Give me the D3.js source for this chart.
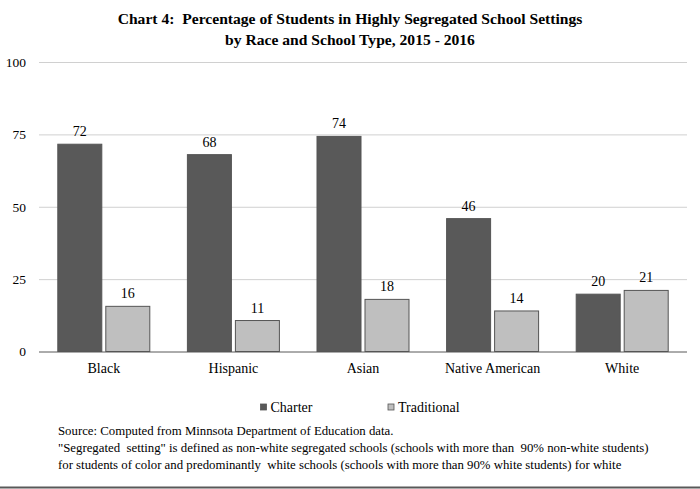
<!DOCTYPE html>
<html>
<head>
<meta charset="utf-8">
<script src="https://cdn.jsdelivr.net/npm/d3@7"></script>
<style>
  html, body { margin: 0; padding: 0; background: #fff; }
  svg { display: block; }
  text { font-family: "Liberation Serif", "Times New Roman", serif; fill: #000; white-space: pre; }
</style>
</head>
<body>
<svg id="chart" width="700" height="489"></svg>
<script>
const categories = ["Black", "Hispanic", "Asian", "Native American", "White"];
const seriesNames = ["Charter", "Traditional"];
const charterValues = [71.6, 68.0, 74.3, 45.9, 19.8];
const traditionalValues = [15.6, 10.7, 18.0, 14.0, 21.1];
const yTicks = [0, 25, 50, 75, 100];
const titleLines = [
  "Chart 4:  Percentage of Students in Highly Segregated School Settings",
  "by Race and School Type, 2015 - 2016"
];
const footnoteLines = [
  "Source: Computed from Minnsota Department of Education data.",
  "\"Segregated  setting\" is defined as non-white segregated schools (schools with more than  90% non-white students)",
  "for students of color and predominantly  white schools (schools with more than 90% white students) for white"
];

const colors = { Charter: "#595959", Traditional: "#bfbfbf" };
const data = categories.map((c, i) => ({ category: c, Charter: charterValues[i], Traditional: traditionalValues[i] }));

const svg = d3.select("#chart");
const W = 700, H = 489;
svg.append("rect").attr("width", W).attr("height", H).attr("fill", "#fff");

const x0 = d3.scaleBand().domain(categories).range([39, 687]).paddingInner(0).paddingOuter(0);
const bw = x0.bandwidth();
const x1 = d3.scaleBand().domain(seriesNames).range([18.8, bw - 18.8]).paddingInner(0.0833).paddingOuter(0);
const y = d3.scaleLinear().domain([0, 100]).range([351.5, 62]);

// Title
svg.append("g").selectAll("text").data(titleLines).join("text")
  .attr("x", 350).attr("y", (d, i) => 24 + i * 21)
  .attr("text-anchor", "middle")
  .style("font-size", "15.6px").style("font-weight", "bold")
  .text(d => d);

// Gridlines + y labels
const yAxis = d3.axisLeft(y).tickValues(yTicks).tickSize(-(687 - 39)).tickPadding(8);
const gy = svg.append("g").attr("transform", "translate(39,0)").call(yAxis);
gy.select(".domain").remove();
gy.selectAll(".tick line").attr("stroke", d => d === 0 ? "#595959" : "#d0d0d0").attr("stroke-width", 1);
gy.selectAll(".tick text").style("font-size", "13.5px").attr("fill", "#000")
  .style("font-family", "'Liberation Serif', serif").attr("x", -13);

// Bars
const groups = svg.append("g").selectAll("g").data(data).join("g")
  .attr("transform", d => `translate(${x0(d.category)},0)`);

groups.selectAll("rect").data(d => seriesNames.map(s => ({ key: s, value: d[s] }))).join("rect")
  .attr("x", d => x1(d.key))
  .attr("y", d => y(d.value))
  .attr("width", x1.bandwidth())
  .attr("height", d => y(0) - y(d.value))
  .attr("fill", d => colors[d.key])
  .attr("stroke", "#555")
  .attr("stroke-width", 1);

groups.selectAll("text.val").data(d => seriesNames.map(s => ({ key: s, value: d[s] }))).join("text")
  .attr("class", "val")
  .attr("x", d => x1(d.key) + x1.bandwidth() / 2)
  .attr("y", d => y(d.value) - 8)
  .attr("text-anchor", "middle")
  .style("font-size", "14px")
  .text(d => Math.round(d.value));

// x axis labels
const xAxis = d3.axisBottom(x0).tickSize(0).tickPadding(12);
const gx = svg.append("g").attr("transform", `translate(0,${y(0)})`).call(xAxis);
gx.select(".domain").remove();
gx.selectAll(".tick text").style("font-size", "14px").attr("fill", "#000")
  .style("font-family", "'Liberation Serif', serif");

// Legend
const legendX = [260.5, 388];
const legend = svg.append("g").selectAll("g").data(seriesNames).join("g")
  .attr("transform", (d, i) => `translate(${legendX[i]},404)`);
legend.append("rect").attr("width", 6).attr("height", 6)
  .attr("fill", d => colors[d]).attr("stroke", "#555").attr("stroke-width", 0.8);
legend.append("text").attr("x", 10).attr("y", 8).style("font-size", "14px").text(d => d);

// Footnotes
svg.append("g").selectAll("text").data(footnoteLines).join("text")
  .attr("x", 58).attr("y", (d, i) => 435 + i * 17)
  .style("font-size", "12.8px")
  .text(d => d);

// Bottom border
svg.append("line").attr("x1", 0).attr("x2", W).attr("y1", 487.5).attr("y2", 487.5)
  .attr("stroke", "#595959").attr("stroke-width", 2);
</script>
</body>
</html>
